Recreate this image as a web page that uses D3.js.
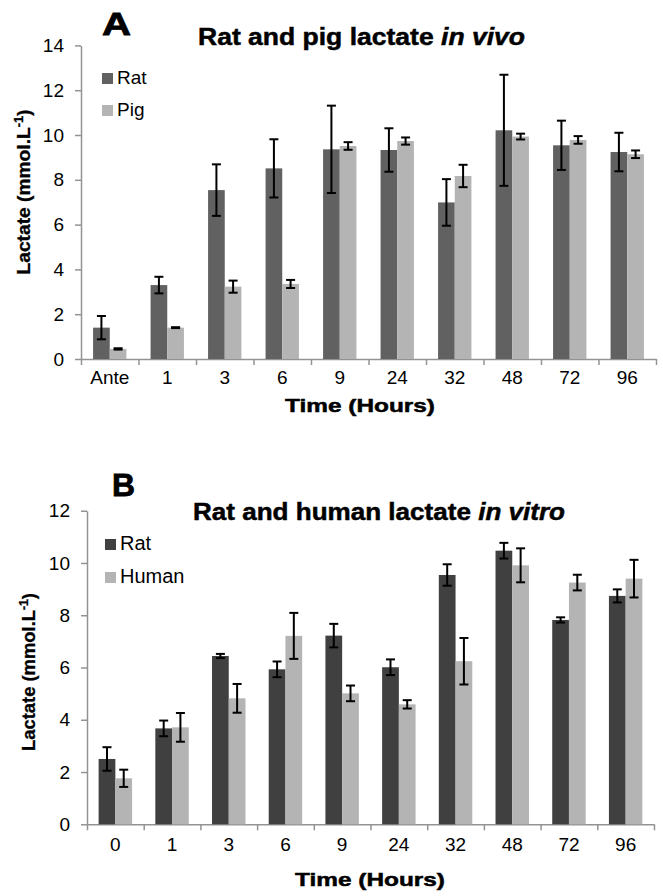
<!DOCTYPE html>
<html><head><meta charset="utf-8">
<script src="https://cdn.jsdelivr.net/npm/d3@7"></script>
<style>
html,body{margin:0;padding:0;background:#fff;}
svg{display:block;font-family:"Liberation Sans",Arial,sans-serif;}
</style></head>
<body>
<svg id="chart" width="663" height="896"></svg>
<script>
// Panel A data: Rat and pig lactate in vivo
const catsA = ["Ante","1","3","6","9","24","32","48","72","96"];
const ratA = [1.40,3.30,7.54,8.51,9.36,9.33,6.99,10.21,9.54,9.24];
const ratAErr = [0.52,0.37,1.15,1.30,1.95,0.97,1.04,2.48,1.10,0.86];
const pigA = [0.45,1.40,3.23,3.35,9.51,9.73,8.17,9.93,9.78,9.14];
const pigAErr = [0.03,0.02,0.27,0.18,0.17,0.16,0.50,0.13,0.17,0.17];
const ticksA = [0,2,4,6,8,10,12,14];

// Panel B data: Rat and human lactate in vitro
const catsB = ["0","1","3","6","9","24","32","48","72","96"];
const ratB = [2.50,3.67,6.44,5.93,7.22,6.01,9.54,10.47,7.82,8.74];
const ratBErr = [0.45,0.30,0.08,0.30,0.45,0.30,0.41,0.30,0.10,0.25];
const humanB = [1.76,3.71,4.82,7.21,5.01,4.59,6.24,9.91,9.25,9.40];
const humanBErr = [0.33,0.55,0.55,0.88,0.30,0.16,0.89,0.65,0.30,0.72];
const ticksB = [0,2,4,6,8,10,12];

const svg = d3.select("#chart");
const AXIS = "#939393";
const FONT = "Liberation Sans, Arial, sans-serif";

function panel(o){
  const g = svg.append("g");
  const y = d3.scaleLinear().domain([0, o.ymax]).range([o.y0, o.y1]);
  const xb = d3.scaleBand().domain(o.cats).range([o.x0, o.x1]).paddingInner(o.pad).paddingOuter(o.pad/2);
  const xs = d3.scaleBand().domain(o.series.map(s=>s.name)).range([0, xb.bandwidth()]);
  const xl = d3.scaleLinear().domain([0, o.cats.length]).range([o.x0, o.x1]);

  // y axis
  const ya = g.append("g").attr("transform",`translate(${o.x0},0)`)
    .call(d3.axisLeft(y).tickValues(o.ticks).tickSize(6).tickSizeOuter(0).tickPadding(11).tickFormat(d3.format("d")));
  ya.select(".domain").attr("stroke",AXIS).attr("stroke-width",1.5);
  ya.selectAll(".tick line").attr("stroke",AXIS).attr("stroke-width",1.5);
  ya.selectAll("text").attr("font-size",o.tickFont).attr("fill","#000").attr("font-family",FONT);

  // x axis boundaries
  const xa = g.append("g").attr("transform",`translate(0,${o.y0})`)
    .call(d3.axisBottom(xl).tickValues(d3.range(0,o.cats.length+1)).tickSize(6).tickSizeOuter(0).tickFormat(""));
  xa.select(".domain").attr("stroke",AXIS).attr("stroke-width",1.5);
  xa.selectAll(".tick line").attr("stroke",AXIS).attr("stroke-width",1.5);

  // x category labels
  const xc = g.append("g").attr("transform",`translate(0,${o.y0})`)
    .call(d3.axisBottom(xb).tickSize(0).tickPadding(o.xLabPad));
  xc.select(".domain").remove();
  xc.selectAll("text").attr("font-size",o.tickFont).attr("fill","#000").attr("font-family",FONT);

  // bars
  o.series.forEach(s=>{
    const gs = g.append("g");
    gs.selectAll("rect").data(o.cats).join("rect")
      .attr("x",(c)=>xb(c)+xs(s.name))
      .attr("y",(c,i)=>y(s.values[i]))
      .attr("width",xs.bandwidth())
      .attr("height",(c,i)=>y(0)-y(s.values[i]))
      .attr("fill",s.color);
  });
  // error bars
  o.series.forEach(s=>{
    const ge = g.append("g").attr("stroke","#000").attr("stroke-width",2).attr("fill","none");
    o.cats.forEach((c,i)=>{
      const cx = xb(c)+xs(s.name)+xs.bandwidth()/2;
      const hi = y(s.values[i]+s.err[i]), lo = y(s.values[i]-s.err[i]);
      ge.append("line").attr("x1",cx).attr("x2",cx).attr("y1",hi).attr("y2",lo);
      ge.append("line").attr("x1",cx-4.5).attr("x2",cx+4.5).attr("y1",hi).attr("y2",hi);
      ge.append("line").attr("x1",cx-4.5).attr("x2",cx+4.5).attr("y1",lo).attr("y2",lo);
    });
  });

  // legend
  o.series.forEach((s,i)=>{
    const ly = o.legY + i*o.legGap;
    g.append("rect").attr("x",o.legX).attr("y",ly-11).attr("width",11).attr("height",11).attr("fill",s.color);
    g.append("text").attr("x",o.legX+15).attr("y",ly).attr("font-size",o.legFont).attr("fill","#000").text(s.name);
  });

  // panel letter
  g.append("text").attr("x",o.letX).attr("y",o.letY).attr("font-size",32).attr("font-weight","bold")
    .attr("font-family",FONT).attr("stroke","#000").attr("stroke-width",0.8)
    .attr("textLength",o.letW).attr("lengthAdjust","spacingAndGlyphs").text(o.letter);

  // title
  const t = g.append("text").attr("x",o.titleX).attr("y",o.titleY).attr("font-size",o.titleFont)
    .attr("font-weight","bold").attr("stroke","#000").attr("stroke-width",0.5)
    .attr("textLength",o.titleW).attr("lengthAdjust","spacingAndGlyphs");
  t.append("tspan").text(o.title1);
  t.append("tspan").attr("font-style","italic").text(o.title2);

  // x title
  g.append("text").attr("x",o.xTitleX).attr("y",o.xTitleY).attr("text-anchor","middle")
    .attr("font-size",19).attr("font-weight","bold").attr("stroke","#000").attr("stroke-width",0.5)
    .attr("textLength",150).attr("lengthAdjust","spacingAndGlyphs").text("Time (Hours)");

  // y title
  const yt = g.append("text").attr("transform",`translate(${o.yTitleX},${o.yTitleY}) rotate(-90)`)
    .attr("text-anchor","middle").attr("font-size",18).attr("font-weight","bold")
    .attr("stroke","#000").attr("stroke-width",0.3)
    .attr("textLength",o.yTitleW).attr("lengthAdjust","spacingAndGlyphs");
  yt.append("tspan").text("Lactate (mmol.L");
  yt.append("tspan").attr("font-size",12).attr("dy",-7).text("-1");
  yt.append("tspan").attr("dy",7).text(")");
}

panel({
  cats: catsA, ymax: 14, ticks: ticksA, y0: 359, y1: 45.4, x0: 81, x1: 656, pad: 0.42,
  series: [{name:"Rat", values: ratA, err: ratAErr, color:"#616161"},
           {name:"Pig", values: pigA, err: pigAErr, color:"#b4b4b4"}],
  tickFont: 19, xLabPad: 12, legX: 102, legY: 84, legGap: 32, legFont: 19,
  letter: "A", letX: 102, letY: 35, letW: 29,
  title1: "Rat and pig lactate ", title2: "in vivo", titleX: 198, titleY: 45, titleFont: 24, titleW: 327,
  xTitleX: 360, xTitleY: 412, yTitleX: 30, yTitleY: 192, yTitleW: 165
});

panel({
  cats: catsB, ymax: 12, ticks: ticksB, y0: 824.3, y1: 510.7, x0: 87, x1: 654, pad: 0.41,
  series: [{name:"Rat", values: ratB, err: ratBErr, color:"#404040"},
           {name:"Human", values: humanB, err: humanBErr, color:"#b4b4b4"}],
  tickFont: 19, xLabPad: 13, legX: 105, legY: 550, legGap: 33, legFont: 20,
  letter: "B", letX: 112, letY: 496, letW: 23,
  title1: "Rat and human lactate ", title2: "in vitro", titleX: 193, titleY: 520, titleFont: 24, titleW: 372,
  xTitleX: 370, xTitleY: 886, yTitleX: 35, yTitleY: 672, yTitleW: 158
});
</script>
</body></html>
